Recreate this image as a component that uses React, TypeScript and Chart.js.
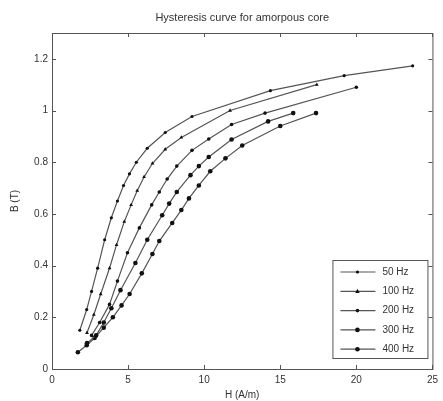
import React, { useEffect, useRef } from "react";
import { Chart, registerables } from "chart.js";

Chart.register(...registerables);

const chartTitle = "Hysteresis curve for amorpous core";
const xTitle = "H (A/m)";
const yTitle = "B (T)";
const seriesLabels = ["50 Hz", "100 Hz", "200 Hz", "300 Hz", "400 Hz"];

const h50 = [1.83, 2.28, 2.6, 3.0, 3.46, 3.9, 4.3, 4.7, 5.09, 5.54, 6.26, 7.44, 9.2, 14.35, 19.2, 23.7];
const b50 = [0.15, 0.23, 0.3, 0.39, 0.5, 0.585, 0.65, 0.71, 0.755, 0.8, 0.854, 0.915, 0.977, 1.077, 1.135, 1.173];

const h100 = [2.3, 2.75, 3.2, 3.78, 4.24, 4.75, 5.2, 5.6, 6.05, 6.6, 7.44, 8.5, 11.7, 17.4];
const b100 = [0.14, 0.21, 0.29, 0.39, 0.48, 0.57, 0.635, 0.69, 0.743, 0.795, 0.85, 0.896, 1.0, 1.1];

const h200 = [2.6, 3.13, 3.78, 4.3, 4.96, 5.74, 6.55, 7.05, 7.57, 8.2, 9.2, 10.3, 11.8, 14.0, 20.0];
const b200 = [0.13, 0.18, 0.25, 0.34, 0.45, 0.546, 0.635, 0.685, 0.735, 0.785, 0.846, 0.89, 0.946, 0.99, 1.09];

const h300 = [2.3, 2.9, 3.4, 3.9, 4.5, 5.48, 6.26, 7.24, 7.7, 8.2, 9.1, 9.65, 10.3, 11.8, 14.2, 15.85];
const b300 = [0.1, 0.13, 0.18, 0.235, 0.305, 0.41, 0.5, 0.595, 0.64, 0.685, 0.75, 0.785, 0.82, 0.888, 0.958, 0.99];

const h400 = [1.7, 2.28, 2.8, 3.4, 4.0, 4.57, 5.1, 5.9, 6.6, 7.05, 7.9, 8.5, 9.0, 9.65, 10.4, 11.4, 12.5, 15.0, 17.35];
const b400 = [0.065, 0.092, 0.12, 0.16, 0.2, 0.246, 0.29, 0.37, 0.445, 0.495, 0.565, 0.615, 0.66, 0.71, 0.765, 0.815, 0.865, 0.94, 0.99];

const xTicks = [0, 5, 10, 15, 20, 25];
const yTicks = [0, 0.2, 0.4, 0.6, 0.8, 1, 1.2];

const hData = [h50, h100, h200, h300, h400];
const bData = [b50, b100, b200, b300, b400];
const pointStyles = ["circle", "triangle", "circle", "circle", "circle"];
const pointRadii = [1.6, 2.2, 1.8, 2.3, 2.3];

const FONT = "'Liberation Sans', Arial, sans-serif";
const LINE = "#555";
const TEXT = "#333";

const framePlugin = {
  id: "frame",
  afterDraw(chart: any) {
    const { ctx, chartArea: a, scales } = chart;
    ctx.save();
    // title
    ctx.fillStyle = TEXT;
    ctx.font = `11px ${FONT}`;
    ctx.textAlign = "center";
    ctx.textBaseline = "middle";
    ctx.fillText(chartTitle, (a.left + a.right) / 2, 18);

    ctx.strokeStyle = "#555";
    ctx.lineWidth = 1;
    ctx.strokeRect(a.left + 0.5, a.top + 0.5, a.right - a.left, a.bottom - a.top);
    const tl = 4;
    ctx.beginPath();
    for (const v of xTicks) {
      const x = Math.round(scales.x.getPixelForValue(v)) + 0.5;
      ctx.moveTo(x, a.bottom);
      ctx.lineTo(x, a.bottom - tl);
      ctx.moveTo(x, a.top);
      ctx.lineTo(x, a.top + tl);
    }
    for (const v of yTicks) {
      const y = Math.round(scales.y.getPixelForValue(v)) + 0.5;
      ctx.moveTo(a.left, y);
      ctx.lineTo(a.left + tl, y);
      ctx.moveTo(a.right, y);
      ctx.lineTo(a.right - tl, y);
    }
    ctx.stroke();

    // legend
    const bw = 95;
    const bh = 98;
    const bx = a.right - 5 - bw;
    const by = a.bottom - 11 - bh;
    ctx.fillStyle = "#fff";
    ctx.fillRect(bx, by, bw, bh);
    ctx.strokeStyle = "#555";
    ctx.strokeRect(bx + 0.5, by + 0.5, bw, bh);
    ctx.font = `10px ${FONT}`;
    ctx.textBaseline = "middle";
    ctx.textAlign = "left";
    seriesLabels.forEach((lab, i) => {
      const y = by + 12 + i * 19.3;
      ctx.strokeStyle = LINE;
      ctx.lineWidth = 1.2;
      ctx.beginPath();
      ctx.moveTo(bx + 8, y);
      ctx.lineTo(bx + 43, y);
      ctx.stroke();
      ctx.fillStyle = "#111";
      const cx = bx + 25;
      const r = pointRadii[i];
      ctx.beginPath();
      if (pointStyles[i] === "triangle") {
        ctx.moveTo(cx, y - r * 1.2);
        ctx.lineTo(cx + r, y + r * 0.8);
        ctx.lineTo(cx - r, y + r * 0.8);
        ctx.closePath();
      } else {
        ctx.arc(cx, y, r, 0, Math.PI * 2);
      }
      ctx.fill();
      ctx.fillStyle = TEXT;
      ctx.fillText(lab, bx + 50, y);
    });
    ctx.restore();
  },
};

export default function App() {
  const ref = useRef<HTMLCanvasElement | null>(null);
  useEffect(() => {
    document.body.style.margin = "0";
    const canvas = ref.current!;
    const datasets = seriesLabels.map((lab, i) => ({
      label: lab,
      data: hData[i].map((h, j) => ({ x: h, y: bData[i][j] })),
      borderColor: LINE,
      borderWidth: 1.2,
      backgroundColor: "#111",
      pointBackgroundColor: "#111",
      pointBorderWidth: 0,
      pointRadius: pointRadii[i],
      pointStyle: pointStyles[i] as any,
      showLine: true,
      tension: 0,
      fill: false,
    }));
    const chart = new Chart(canvas, {
      type: "scatter",
      data: { datasets },
      plugins: [framePlugin],
      options: {
        responsive: false,
        animation: false,
        layout: { padding: { left: 0, right: 7, top: 33, bottom: 0 } },
        plugins: {
          legend: { display: false },
          tooltip: { enabled: false },
          title: { display: false },
        },
        scales: {
          x: {
            type: "linear",
            min: 0,
            max: 25,
            afterBuildTicks: (s: any) => {
              s.ticks = xTicks.map((v) => ({ value: v }));
            },
            afterFit: (s: any) => {
              s.height = 32;
            },
            ticks: {
              color: TEXT,
              font: { family: FONT, size: 10 },
              padding: 5,
              maxRotation: 0,
            },
            grid: { display: false, drawTicks: false },
            border: { display: false },
            title: {
              display: true,
              text: xTitle,
              color: TEXT,
              font: { family: FONT, size: 10 },
              padding: { top: 2, bottom: 0 },
            },
          },
          y: {
            type: "linear",
            min: 0,
            max: 1.3,
            afterBuildTicks: (s: any) => {
              s.ticks = yTicks.map((v) => ({ value: v }));
            },
            afterFit: (s: any) => {
              s.width = 52;
            },
            ticks: {
              color: TEXT,
              font: { family: FONT, size: 10 },
              padding: 4,
              callback: (v: any) => String(Number(Number(v).toFixed(1))),
            },
            grid: { display: false, drawTicks: false },
            border: { display: false },
            title: {
              display: true,
              text: yTitle,
              color: TEXT,
              font: { family: FONT, size: 10 },
              padding: { top: 9, bottom: 0 },
            },
          },
        },
      },
    });
    return () => chart.destroy();
  }, []);
  return <canvas ref={ref} width={443} height={401} style={{ display: "block" }} />;
}
